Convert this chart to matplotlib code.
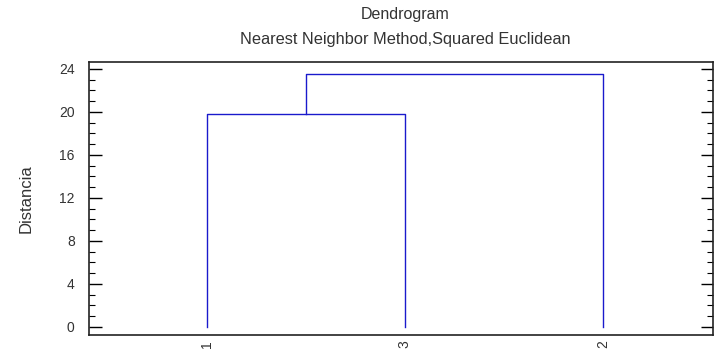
import matplotlib
matplotlib.use('Agg')
import matplotlib.pyplot as plt
from matplotlib.ticker import MultipleLocator

# --- datos ---
leaf_labels = ['1', '3', '2']          # orden de las hojas
merge_left = [0, 0.5]                  # posición del hijo izquierdo
merge_right = [1, 2]                   # posición del hijo derecho
merge_left_h = [0, 19.8]               # altura de partida del hijo izquierdo
merge_right_h = [0, 0]                 # altura de partida del hijo derecho
merge_h = [19.8, 23.5]                 # altura de fusión

plt.rcParams['font.family'] = ['Liberation Sans', 'DejaVu Sans']
line_col = '#1a1acc'
txt_col = '#333333'

fig = plt.figure(figsize=(7.14, 3.56), dpi=100)
ax = fig.add_axes([0.124, 0.059, 0.875, 0.767])

for xl, xr, hl, hr, h in zip(merge_left, merge_right, merge_left_h, merge_right_h, merge_h):
    ax.plot([xl, xl, xr, xr], [hl, h, h, hr], color=line_col, lw=1)

ax.set_xlim(-0.595, 2.555)
ax.set_ylim(-0.75, 24.65)
ax.set_xticks(range(len(leaf_labels)))
ax.set_xticklabels(leaf_labels, rotation=90, color=txt_col, fontsize=10)
ax.tick_params(axis='x', length=0, pad=4)

ax.yaxis.set_major_locator(MultipleLocator(4))
ax.yaxis.set_minor_locator(MultipleLocator(1))
ax.tick_params(axis='y', which='major', direction='in', length=9, width=1,
               left=True, right=True, labelsize=10, labelcolor=txt_col, pad=10)
ax.tick_params(axis='y', which='minor', direction='in', length=4, width=0.8,
               left=True, right=True)
for s in ax.spines.values():
    s.set_linewidth(1.2)
    s.set_color('#222222')

ax.set_ylabel('Distancia', color=txt_col, fontsize=12, labelpad=18)

fig.text(0.567, 0.958, 'Dendrogram', ha='center', va='center', color=txt_col, fontsize=11.5)
fig.text(0.567, 0.89, 'Nearest Neighbor Method,Squared Euclidean', ha='center',
         va='center', color=txt_col, fontsize=11.8)

fig.savefig('out.png', dpi=100)
